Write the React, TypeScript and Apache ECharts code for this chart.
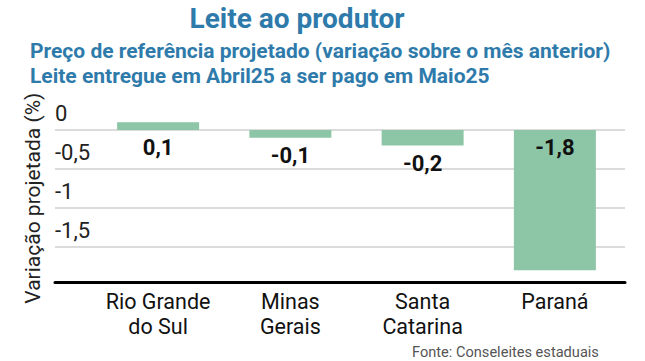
import React, { useEffect, useRef } from "react";
import * as echarts from "echarts";

const categories = ["Rio Grande\ndo Sul", "Minas\nGerais", "Santa\nCatarina", "Paraná"];
const values = [0.1, -0.1, -0.2, -1.8];
const labelPositions = ["bottom", "bottom", "bottom", "insideTop"];
const yMin = -1.95;
const yMax = 0.2;

const BLUE = "#2e7bab";
const BAR = "#8dc5a7";
const FONT = "Roboto, 'Noto Sans', sans-serif";

const fmt = (v: number) => String(v).replace(".", ",");

export default function App() {
  const ref = useRef<HTMLDivElement>(null);
  useEffect(() => {
    if (!ref.current) return;
    const chart = echarts.init(ref.current, null, { renderer: "svg" });
    const gridTop = 114.4;
    const gridBottom = 79;
    chart.setOption({
      animation: false,
      textStyle: { fontFamily: FONT },
      grid: [
        { left: 55, right: 20, top: gridTop, bottom: gridBottom },
        { left: 92, right: 24, top: gridTop, bottom: gridBottom },
      ],
      xAxis: [
        {
          type: "value",
          gridIndex: 0,
          axisLine: { show: true, onZero: false, lineStyle: { color: "#000", width: 3 } },
          axisTick: { show: false },
          axisLabel: { show: false },
          splitLine: { show: false },
        },
        {
          type: "category",
          gridIndex: 1,
          data: categories,
          axisLine: { show: false },
          axisTick: { show: false },
          axisLabel: {
            color: "#111",
            fontSize: 21.5,
            lineHeight: 25,
            margin: 7,
            fontFamily: FONT,
            interval: 0,
          },
        },
      ],
      yAxis: [
        {
          type: "value",
          gridIndex: 0,
          min: yMin,
          max: yMax,
          splitNumber: 5,
          name: "Variação projetada (%)",
          nameLocation: "middle",
          nameGap: 12,
          nameRotate: 90,
          nameTextStyle: { color: "#222", fontSize: 21, fontFamily: FONT },
          axisLine: { show: false },
          axisTick: { show: false },
          axisLabel: {
            inside: true,
            margin: 0,
            verticalAlign: "bottom",
            padding: [0, 0, 5, 0],
            color: "#222",
            fontSize: 22,
            fontFamily: FONT,
            showMinLabel: false,
            showMaxLabel: false,
            formatter: (v: number) => (Math.abs(v * 2 - Math.round(v * 2)) < 1e-6 ? fmt(v) : ""),
          },
          splitLine: {
            show: true,
            showMinLine: false,
            showMaxLine: false,
            lineStyle: { color: "#cfcfcf", width: 1.5 },
          },
        },
        {
          type: "value",
          gridIndex: 1,
          min: yMin,
          max: yMax,
          show: false,
          splitLine: { show: false },
        },
      ],
      series: [
        {
          type: "bar",
          xAxisIndex: 1,
          yAxisIndex: 1,
          barWidth: "62%",
          itemStyle: { color: BAR },
          data: values.map((v, i) => ({
            value: v,
            label: {
              show: true,
              position: labelPositions[i],
              distance: 7,
              formatter: fmt(v),
              color: "#111",
              fontWeight: "bold",
              fontSize: 22,
              fontFamily: FONT,
            },
          })),
        },
      ],
      graphic: [
        {
          type: "text",
          style: {
            x: 297,
            y: 18,
            text: "Leite ao produtor",
            fill: BLUE,
            font: `bold 28px ${FONT}`,
            textAlign: "center",
            textVerticalAlign: "middle",
          },
        },
        {
          type: "text",
          style: {
            x: 30,
            y: 51,
            text: "Preço de referência projetado (variação sobre o mês anterior)",
            fill: BLUE,
            font: `bold 21px ${FONT}`,
            textAlign: "left",
            textVerticalAlign: "middle",
          },
        },
        {
          type: "text",
          style: {
            x: 30,
            y: 76,
            text: "Leite entregue em Abril25 a ser pago em Maio25",
            fill: BLUE,
            font: `bold 21px ${FONT}`,
            textAlign: "left",
            textVerticalAlign: "middle",
          },
        },
        {
          type: "text",
          style: {
            x: 412,
            y: 352,
            text: "Fonte: Conseleites estaduais",
            fill: "#555",
            font: `14.6px ${FONT}`,
            textAlign: "left",
            textVerticalAlign: "middle",
          },
        },
      ],
    });
    return () => chart.dispose();
  }, []);
  return <div ref={ref} style={{ width: 645, height: 361, position: "absolute", left: 0, top: 0 }} />;
}
